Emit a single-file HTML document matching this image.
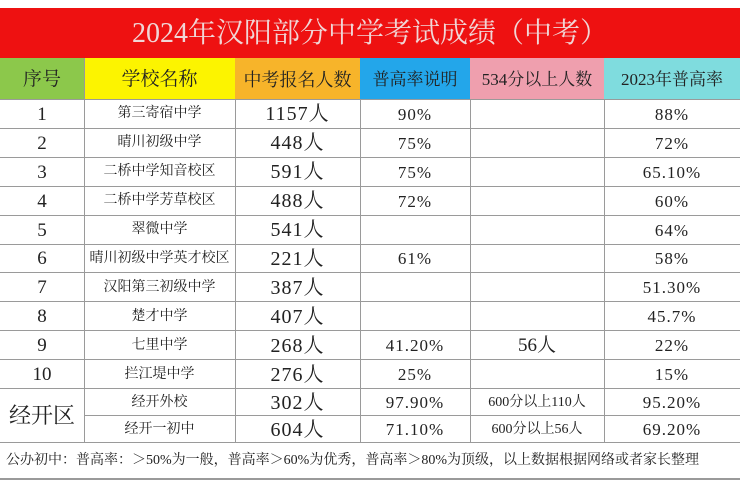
<!DOCTYPE html>
<html><head><meta charset="utf-8"><style>
body{margin:0;width:740px;height:490px;background:#fff;position:relative;overflow:hidden;font-family:"Liberation Serif","Noto Serif CJK SC",serif;color:#222}
.c{position:absolute;display:flex;align-items:center;justify-content:center;box-sizing:border-box;white-space:nowrap;line-height:1;padding-top:2px}
.h{position:absolute;left:0;width:740px;height:1px;background:#9a9a9a}
.v{position:absolute;width:1px;background:#9a9a9a}
</style></head><body>
<div class="c" style="left:0;top:8px;width:740px;height:50px;background:#ee1111;color:#f0d6d6;font-size:28px;">2024年汉阳部分中学考试成绩（中考）</div>
<div class="c" style="left:0;top:58px;width:84px;height:41px;background:#8cc84b;font-size:19px">序号</div>
<div class="c" style="left:84px;top:58px;width:151px;height:41px;background:#fcf400;font-size:19px">学校名称</div>
<div class="c" style="left:235px;top:58px;width:125px;height:41px;background:#f7b42a;font-size:18px">中考报名人数</div>
<div class="c" style="left:360px;top:58px;width:110px;height:41px;background:#23a6ea;font-size:17px">普高率说明</div>
<div class="c" style="left:470px;top:58px;width:134px;height:41px;background:#ef9fae;font-size:17px">534分以上人数</div>
<div class="c" style="left:604px;top:58px;width:136px;height:41px;background:#7fdcde;font-size:17px">2023年普高率</div>
<div id="rows"></div>
<script>
var d=[["1","第三寄宿中学","1157人","90%","","88%"],["2","晴川初级中学","448人","75%","","72%"],["3","二桥中学知音校区","591人","75%","","65.10%"],["4","二桥中学芳草校区","488人","72%","","60%"],["5","翠微中学","541人","","","64%"],["6","晴川初级中学英才校区","221人","61%","","58%"],["7","汉阳第三初级中学","387人","","","51.30%"],["8","楚才中学","407人","","","45.7%"],["9","七里中学","268人","41.20%","56人","22%"],["10","拦江堤中学","276人","25%","","15%"],["","经开外校","302人","97.90%","600分以上110人","95.20%"],["","经开一初中","604人","71.10%","600分以上56人","69.20%"]];
var xs=[0,84,235,360,470,604,740],fs=[19,14,20,17,14,17],h="";
var tops=[];for(var i=0;i<10;i++)tops.push(99+i*28.9);tops.push(388);tops.push(415);
var hs=[];for(i=0;i<10;i++)hs.push(28.9);hs.push(27);hs.push(27);
for(i=0;i<12;i++){for(var j=0;j<6;j++){var t=d[i][j];if(!t)continue;var f=fs[j];if(j==4&&i<10)f=19;
h+='<div class="c" style="left:'+xs[j]+'px;top:'+tops[i]+'px;width:'+(xs[j+1]-xs[j])+'px;height:'+hs[i]+'px;font-size:'+f+'px;letter-spacing:'+(j>=2&&j!=4?1:0)+'px">'+t+'</div>';}
h+='<div class="h" style="top:'+(tops[i]+hs[i])+'px;left:'+(i==10?84:0)+'px;width:'+(i==10?656:740)+'px"></div>';}
h+='<div class="h" style="top:99px"></div>';
for(j=1;j<6;j++)h+='<div class="v" style="left:'+xs[j]+'px;top:99px;height:343px"></div>';
h+='<div class="v" style="left:'+xs[1]+'px;top:58px;height:41px"></div>';
h+='<div class="c" style="left:0;top:388px;width:84px;height:54px;font-size:22px">经开区</div>';
h+='<div class="c" style="left:0;top:442px;width:740px;height:36px;justify-content:flex-start;padding-left:6px;font-size:14px">公办初中：普高率：＞50%为一般，普高率＞60%为优秀，普高率＞80%为顶级，以上数据根据网络或者家长整理</div>';
h+='<div class="h" style="top:478px;height:2px"></div>';
document.getElementById("rows").innerHTML=h;
</script>
</body></html>
